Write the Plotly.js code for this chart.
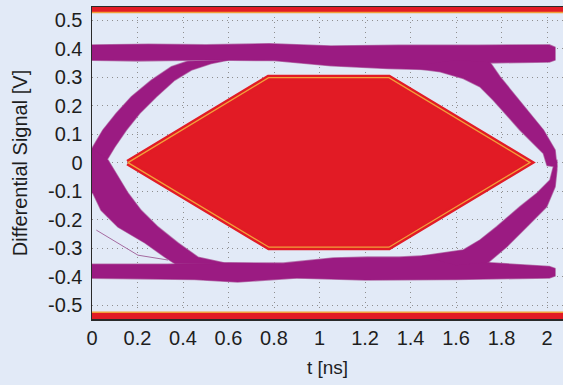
<!DOCTYPE html>
<html><head><meta charset="utf-8">
<script src="https://cdn.plot.ly/plotly-3.0.1.min.js"></script>
<style>html,body{margin:0;padding:0;background:#e2eaf7;}#chart{width:563px;height:385px;}</style>
</head><body><div id="chart"></div>
<script>
// tick labels
const xTickVals = [0, 0.2, 0.4, 0.6, 0.8, 1, 1.2, 1.4, 1.6, 1.8, 2];
const xTickText = ['0', '0.2', '0.4', '0.6', '0.8', '1', '1.2', '1.4', '1.6', '1.8', '2'];
const yTickVals = [-0.5, -0.4, -0.3, -0.2, -0.1, 0, 0.1, 0.2, 0.3, 0.4, 0.5];
const yTickText = ['-0.5', '-0.4', '-0.3', '-0.2', '-0.1', '0', '0.1', '0.2', '0.3', '0.4', '0.5'];

// eye mask (hexagon) and limit regions
const maskX = [0.158, 0.776, 1.305, 1.925, 1.305, 0.778, 0.158];
const maskY = [0, 0.298, 0.298, 0, -0.297, -0.297, 0];
const limitX = [-0.1, 2.2, 2.2, -0.1, -0.1];
const upperLimitY = [0.527, 0.527, 0.7, 0.7, 0.527];
const lowerLimitY = [-0.525, -0.525, -0.7, -0.7, -0.525];

// eye diagram trace envelopes
const upperRailX = [-0.05, 0.25, 0.5, 0.78, 1.05, 1.35, 1.7, 2.01, 2.035, 2.035, 2.01, 1.75, 1.55, 1.3, 1.05, 0.8, 0.5, 0.2, -0.05];
const upperRailY = [0.412, 0.415, 0.413, 0.417, 0.409, 0.412, 0.412, 0.413, 0.405, 0.36, 0.353, 0.35, 0.325, 0.33, 0.34, 0.358, 0.36, 0.357, 0.36];
const lowerRailX = [-0.05, 0.33, 0.6, 0.84, 1.06, 1.21, 1.35, 1.49, 1.65, 1.75, 2.01, 2.035, 2.035, 2.01, 1.6, 1.2, 0.9, 0.64, 0.45, -0.05];
const lowerRailY = [-0.357, -0.357, -0.352, -0.353, -0.335, -0.332, -0.332, -0.326, -0.335, -0.352, -0.365, -0.372, -0.398, -0.405, -0.41, -0.412, -0.405, -0.419, -0.41, -0.405];
const leftRiseX = [-0.04, 0.004, 0.048, 0.107, 0.173, 0.261, 0.349, 0.422, 0.6, 0.524, 0.437, 0.363, 0.283, 0.21, 0.151, 0.1, 0.056, 0.0];
const leftRiseY = [-0.02, 0.055, 0.114, 0.173, 0.231, 0.289, 0.336, 0.356, 0.36, 0.348, 0.325, 0.289, 0.231, 0.173, 0.114, 0.055, -0.003, -0.05];
const leftFallX = [-0.04, 0.0, 0.07, 0.114, 0.158, 0.215, 0.29, 0.378, 0.466, 0.598, 0.365, 0.321, 0.233, 0.114, 0.04, 0.004, -0.04];
const leftFallY = [0.02, 0.05, 0.009, -0.051, -0.107, -0.167, -0.226, -0.282, -0.332, -0.355, -0.355, -0.332, -0.282, -0.226, -0.167, -0.107, -0.1];
const rightFallX = [1.38, 1.53, 1.632, 1.705, 1.764, 1.881, 1.984, 2.0, 2.043, 2.035, 1.984, 1.925, 1.867, 1.793, 1.749, 1.6];
const rightFallY = [0.335, 0.319, 0.295, 0.266, 0.219, 0.114, 0.032, -0.01, -0.015, 0.044, 0.114, 0.173, 0.231, 0.301, 0.352, 0.36];
const rightRiseX = [1.45, 1.632, 1.705, 1.779, 1.881, 1.955, 2.013, 2.028, 2.043, 2.043, 2.035, 1.998, 1.911, 1.823, 1.742, 1.6];
const rightRiseY = [-0.328, -0.307, -0.272, -0.225, -0.155, -0.108, -0.061, -0.015, 0.01, -0.026, -0.085, -0.155, -0.225, -0.295, -0.35, -0.36];
const strayX = [0.019, 0.202, 0.334];
const strayY = [-0.237, -0.325, -0.342];

const RED = '#e21b25';
const ORANGE = '#f2a03a';
const PURPLE = '#9b1b82';
const PALE = '#bc8db9';
const BG = '#e2eaf7';
const FONT = 'Liberation Sans, Arial, sans-serif';

const bands = [[upperRailX, upperRailY], [lowerRailX, lowerRailY], [leftRiseX, leftRiseY],
               [leftFallX, leftFallY], [rightFallX, rightFallY], [rightRiseX, rightRiseY]];

const traces = [];
// limit regions: red fill, orange inner edge
[upperLimitY, lowerLimitY].forEach(function (ys) {
  traces.push({x: limitX, y: ys, mode: 'lines', fill: 'toself', fillcolor: RED,
    line: {color: RED, width: 0}, hoverinfo: 'skip'});
  traces.push({x: limitX.slice(0, 2), y: ys.slice(0, 2), mode: 'lines',
    line: {color: ORANGE, width: 1.5}, hoverinfo: 'skip'});
});
// eye mask
traces.push({x: maskX, y: maskY, mode: 'lines', fill: 'toself', fillcolor: RED,
  line: {color: RED, width: 6}, hoverinfo: 'skip'});
traces.push({x: maskX, y: maskY, mode: 'lines', line: {color: ORANGE, width: 1.3}, hoverinfo: 'skip'});
// pale outlines of the traces
bands.forEach(function (b) {
  traces.push({x: b[0], y: b[1], mode: 'lines', line: {color: PALE, width: 1.6}, hoverinfo: 'skip'});
});
traces.push({x: strayX, y: strayY, mode: 'lines', line: {color: '#a56aa0', width: 1}, hoverinfo: 'skip'});
// purple fills
bands.forEach(function (b) {
  traces.push({x: b[0], y: b[1], mode: 'lines', fill: 'toself', fillcolor: PURPLE,
    line: {color: PURPLE, width: 0.3}, hoverinfo: 'skip'});
});

const axisCommon = {
  showgrid: true, gridcolor: '#8f8f8f', gridwidth: 1, griddash: '1px,4px',
  zeroline: false, showline: true, linecolor: '#2a2a2a', linewidth: 1.5, mirror: true,
  ticks: '', tickfont: {family: FONT, size: 20, color: '#1e1e1e'}
};

const layout = {
  width: 563, height: 385,
  margin: {l: 92, r: 0, t: 7, b: 66},
  paper_bgcolor: BG, plot_bgcolor: BG, showlegend: false,
  xaxis: Object.assign({}, axisCommon, {
    range: [0, 2.07], tickmode: 'array', tickvals: xTickVals, ticktext: xTickText,
    title: {text: 't [ns]', font: {family: FONT, size: 19, color: '#1e1e1e'}, standoff: 13}
  }),
  yaxis: Object.assign({}, axisCommon, {
    range: [-0.549, 0.546], tickmode: 'array', tickvals: yTickVals, ticktext: yTickText,
    ticklabelstandoff: 4,
    title: {text: 'Differential Signal [V]', font: {family: FONT, size: 20, color: '#1e1e1e'}, standoff: 15}
  })
};

Plotly.newPlot('chart', traces, layout, {staticPlot: true, displayModeBar: false});
</script></body></html>
